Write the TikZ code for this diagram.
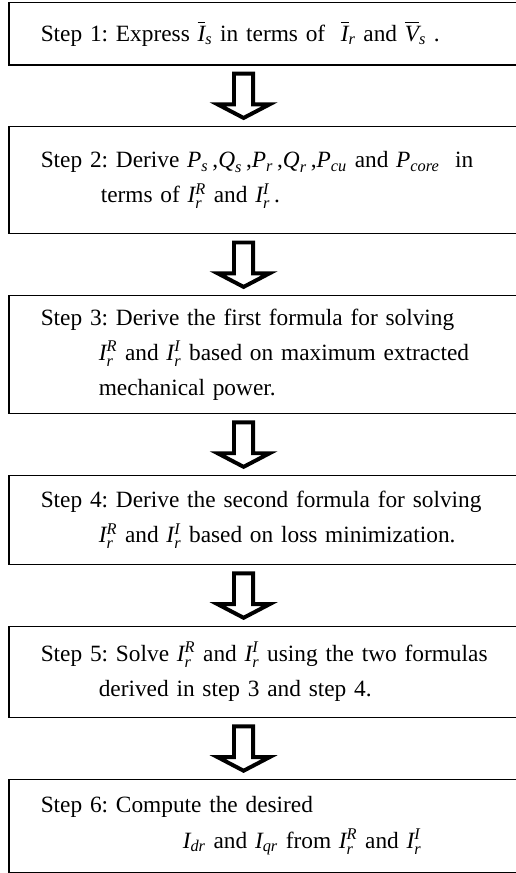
\documentclass[tikz,border=0pt]{standalone}
\usepackage{amsmath}
\usepackage{fontspec}
\setmainfont{Liberation Serif}
\usetikzlibrary{positioning,calc}

\newcommand{\vr}[1]{\text{\itshape #1}}
\newcommand{\Ir}[1]{\vr{I}_{\vr{r}}^{\vr{#1}}}
\frenchspacing

\begin{document}
\begin{tikzpicture}[
    stepbox/.style={draw, line width=1.1pt, anchor=north west, minimum width=12.72cm,
      text width=12cm, inner xsep=0.8cm, inner ysep=0pt, align=left,
      font=\fontsize{16.6}{25}\selectfont},
    blockarrow/.style={draw, fill=white, line width=2.8pt, line join=miter},
    node distance=1.51cm]
  \useasboundingbox (0,0) rectangle (12.875,-21.825);
  \coordinate (ax) at (6.09,0);
  \node[stepbox, minimum height=1.56cm] (s1) at (0.2,-0.04)
    {Step 1: Express $\overline{\vr{I}}_{\vr{s}}$ in terms of \ $\overline{\vr{I}}_{\vr{r}}$ and $\overline{\vr{V}}_{\vr{s}}$ .};
  \node[stepbox, minimum height=2.675cm, below=of s1] (s2)
    {Step 2: Derive $\vr{P}_{\vr{s}}$\,,$\vr{Q}_{\vr{s}}$\,,$\vr{P}_{\vr{r}}$\,,$\vr{Q}_{\vr{r}}$\,,$\vr{P}_{\vr{cu}}$ and $\vr{P}_{\vr{core}}$ \ in\\
     \hspace*{1.5cm}terms of $\Ir{R}$ and $\Ir{I}$\,.\par\vspace*{0.9cm}};
  \node[stepbox, minimum height=2.95cm, below=of s2] (s3)
    {Step 3: Derive the first formula for solving\\
     \hspace*{1.45cm}$\Ir{R}$ and $\Ir{I}$ based on maximum extracted\\
     \hspace*{1.45cm}mechanical power.};
  \node[stepbox, minimum height=2.225cm, below=of s3] (s4)
    {Step 4: Derive the second formula for solving\\
     \hspace*{1.45cm}$\Ir{R}$ and $\Ir{I}$ based on loss minimization.};
  \node[stepbox, minimum height=2.275cm, below=of s4] (s5)
    {Step 5: Solve $\Ir{R}$ and $\Ir{I}$ using the two formulas\\
     \hspace*{1.45cm}derived in step 3 and step 4.};
  \node[stepbox, minimum height=2.325cm, below=of s5] (s6)
    {Step 6: Compute the desired\\
     \hspace*{3.55cm}$\vr{I}_{\vr{dr}}$ and $\vr{I}_{\vr{qr}}$ from $\Ir{R}$ and $\Ir{I}$};
  % hollow block arrows between the steps
  \foreach \a/\b in {s1/s2,s2/s3,s3/s4,s4/s5,s5/s6}
    \path[blockarrow] let \p1=(\a.south -| ax), \p2=(\b.north -| ax) in
      (\x1-0.24cm,\y1-0.2cm) -- (\x1+0.24cm,\y1-0.2cm) -- (\x1+0.24cm,\y2+0.54cm)
      -- (\x1+0.65cm,\y2+0.54cm) -- (\x1,\y2+0.2cm) -- (\x1-0.65cm,\y2+0.54cm)
      -- (\x1-0.24cm,\y2+0.54cm) -- cycle;
\end{tikzpicture}
\end{document}
